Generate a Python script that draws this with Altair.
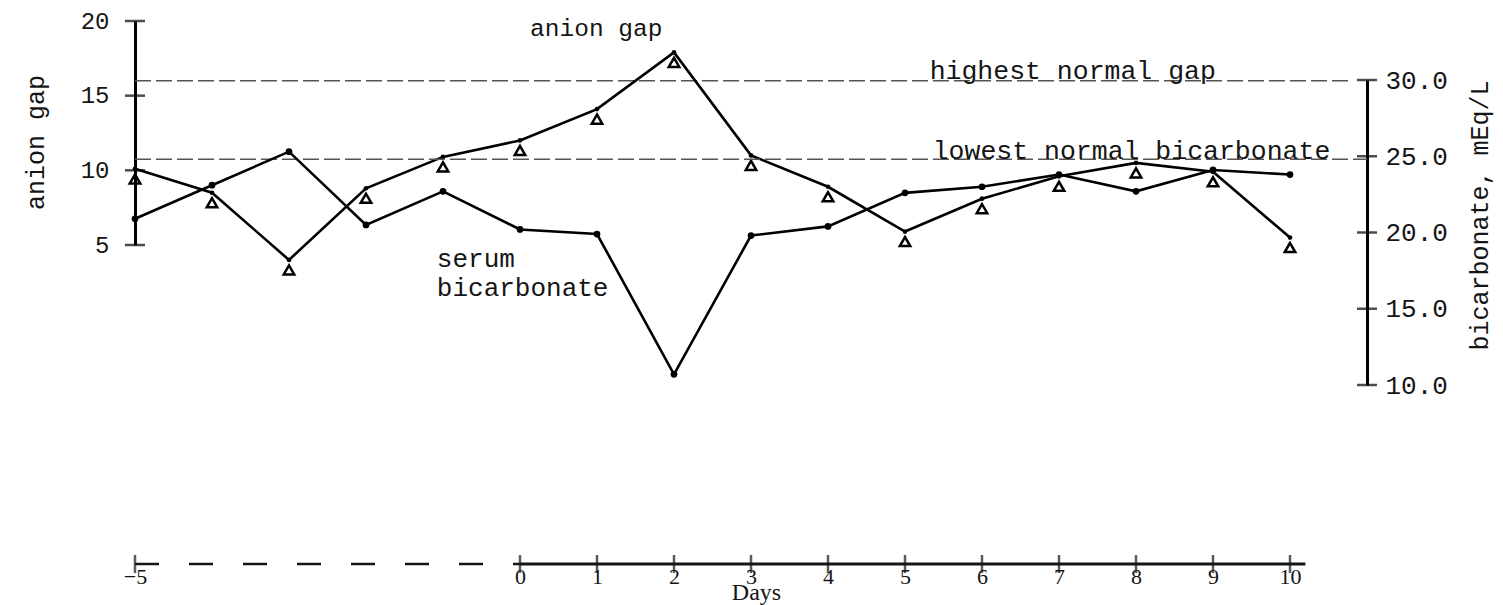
import altair as alt
import pandas as pd

# ---------------- data ----------------
days = list(range(-5, 11))
anion_gap = [10.1, 8.5, 4.0, 8.8, 10.9, 12.0, 14.1, 17.9, 11.0, 8.9, 5.9, 8.1, 9.6, 10.5, 9.9, 5.5]
bicarbonate = [20.9, 23.1, 25.3, 20.5, 22.7, 20.2, 19.9, 10.7, 19.8, 20.4, 22.6, 23.0, 23.8, 22.7, 24.1, 23.8]

gap_tick_values = [5, 10, 15, 20]
bicarb_tick_values = [10.0, 15.0, 20.0, 25.0, 30.0]
day_tick_values = [-5, 0, 1, 2, 3, 4, 5, 6, 7, 8, 9, 10]

highest_normal_gap = 16.0
lowest_normal_bicarb = 24.8

# annotation anchors (day, value)
gap_label_pos = (0.99, 19.45)
high_label_pos = (5.32, 16.1)
low_label_pos = (5.36, 24.85)
serum_label_days = [-1.08, -1.08]
serum_label_vals = [18.26, 16.36]
serum_label_text = ["serum", "bicarbonate"]

# ---------------- styling ----------------
MONO = "Liberation Mono"
SERIF = "Liberation Serif"
INK = "#151515"
W, H = 1232, 548

x_scale = alt.Scale(domain=[-5, 11], nice=False, zero=False)
gap_scale = alt.Scale(domain=[5, 20], range=[229, 5], nice=False, zero=False)
bic_scale = alt.Scale(domain=[10, 30], range=[369, 64], nice=False, zero=False)

x_axis = alt.Axis(values=day_tick_values, format="d", domain=False, ticks=False, grid=False,
                  labelFont=SERIF, labelFontSize=22, labelColor=INK, labelPadding=2,
                  labelFlush=False, labelOverlap=False,
                  title="Days", titleFont=SERIF, titleFontSize=24, titleFontWeight="normal",
                  titleColor=INK, titleX=621, titleY=28, titleAlign="center", titleBaseline="middle")

gap_axis = alt.Axis(orient="left", values=gap_tick_values, format="d", ticks=False, grid=False,
                    domain=True, domainColor="black", domainWidth=3,
                    labelFont=MONO, labelFontSize=24, labelColor=INK, labelPadding=26,
                    labelFlush=False, labelOverlap=False,
                    title="anion gap", titleFont=MONO, titleFontSize=25, titleFontWeight="normal",
                    titleColor=INK, titleAngle=270, titleX=-100, titleY=126,
                    titleAlign="center", titleBaseline="middle")

bic_axis = alt.Axis(orient="right", values=bicarb_tick_values, format=".1f", ticks=False, grid=False,
                    domain=True, domainColor="black", domainWidth=3,
                    labelFont=MONO, labelFontSize=26, labelColor=INK, labelPadding=18,
                    labelFlush=False, labelOverlap=False,
                    title="bicarbonate, mEq/L", titleFont=MONO, titleFontSize=25,
                    titleFontWeight="normal", titleColor=INK, titleAngle=270,
                    titleX=112, titleY=199, titleAlign="center", titleBaseline="middle")

X = alt.X("day:Q", scale=x_scale, axis=x_axis)
X2 = alt.X2("day_end:Q")
YG = alt.Y("gap:Q", scale=gap_scale, axis=gap_axis)
YB = alt.Y("bic:Q", scale=bic_scale, axis=bic_axis)

main = pd.DataFrame({"day": days, "gap": anion_gap, "bic": bicarbonate})

# ---------------- x axis drawn with break ----------------
seg_dash = pd.DataFrame({"day": [-5.0], "day_end": [0.0]})
seg_solid = pd.DataFrame({"day": [0.0], "day_end": [10.2]})
xt = pd.DataFrame({"day": day_tick_values})

x_dash = alt.Chart(seg_dash).mark_rule(color=INK, strokeWidth=2.5, strokeDash=[24, 30]).encode(
    x=X, x2=X2, y=alt.value(H))
x_solid = alt.Chart(seg_solid).mark_rule(color=INK, strokeWidth=3).encode(
    x=X, x2=X2, y=alt.value(H))
x_ticks = alt.Chart(xt).mark_tick(orient="vertical", size=18, thickness=2.5, color=INK).encode(
    x=X, y=alt.value(H))
xdeco = alt.layer(x_dash, x_solid, x_ticks)

# ---------------- anion gap group (left axis) ----------------
gt = pd.DataFrame({"day": [-5] * len(gap_tick_values), "gap": gap_tick_values})
gap_ticks = alt.Chart(gt).mark_tick(orient="horizontal", size=20, thickness=2.5, color="black").encode(x=X, y=YG)
hi = pd.DataFrame({"day": [-5.0], "day_end": [10.8], "gap": [highest_normal_gap]})
hi_rule = alt.Chart(hi).mark_rule(color="#555", strokeWidth=1.5, strokeDash=[16, 5]).encode(x=X, x2=X2, y=YG)
gap_line = alt.Chart(main).mark_line(color="black", strokeWidth=2.6).encode(x=X, y=YG)
gap_dot = alt.Chart(main).mark_point(shape="circle", filled=True, size=22, color="black", opacity=1).encode(x=X, y=YG)
gap_tri = alt.Chart(main).mark_point(shape="triangle-up", filled=False, size=110, strokeWidth=2.5,
                                     color="black", opacity=1, yOffset=10).encode(x=X, y=YG)
gl = pd.DataFrame({"day": [gap_label_pos[0]], "gap": [gap_label_pos[1]], "t": ["anion gap"]})
gap_text = alt.Chart(gl).mark_text(font=MONO, fontSize=24.5, color=INK, align="center", baseline="middle").encode(
    x=X, y=YG, text="t:N")
hl = pd.DataFrame({"day": [high_label_pos[0]], "gap": [high_label_pos[1]], "t": ["highest normal gap"]})
high_text = alt.Chart(hl).mark_text(font=MONO, fontSize=26.5, color=INK, align="left", baseline="alphabetic").encode(
    x=X, y=YG, text="t:N")
gap_group = alt.layer(gap_ticks, hi_rule, gap_line, gap_dot, gap_tri, gap_text, high_text)

# ---------------- bicarbonate group (right axis) ----------------
bt = pd.DataFrame({"day": [11] * len(bicarb_tick_values), "bic": bicarb_tick_values})
bic_ticks = alt.Chart(bt).mark_tick(orient="horizontal", size=20, thickness=2.5, color="black").encode(x=X, y=YB)
lo = pd.DataFrame({"day": [-5.0], "day_end": [11.0], "bic": [lowest_normal_bicarb]})
lo_rule = alt.Chart(lo).mark_rule(color="#555", strokeWidth=1.5, strokeDash=[16, 5]).encode(x=X, x2=X2, y=YB)
bic_line = alt.Chart(main).mark_line(color="black", strokeWidth=2.6).encode(x=X, y=YB)
bic_dot = alt.Chart(main).mark_point(shape="circle", filled=True, size=45, color="black", opacity=1).encode(x=X, y=YB)
ll = pd.DataFrame({"day": [low_label_pos[0]], "bic": [low_label_pos[1]], "t": ["lowest normal bicarbonate"]})
low_text = alt.Chart(ll).mark_text(font=MONO, fontSize=26.5, color=INK, align="left", baseline="alphabetic").encode(
    x=X, y=YB, text="t:N")
sl = pd.DataFrame({"day": serum_label_days, "bic": serum_label_vals, "t": serum_label_text})
serum_text = alt.Chart(sl).mark_text(font=MONO, fontSize=26, color=INK, align="left", baseline="middle").encode(
    x=X, y=YB, text="t:N")
bic_group = alt.layer(bic_ticks, lo_rule, bic_line, bic_dot, low_text, serum_text)

chart = alt.layer(xdeco, gap_group, bic_group).resolve_scale(y="independent").properties(
    width=W, height=H,
    padding={"left": 127, "top": 8, "right": 128, "bottom": 45},
    autosize="none",
    background="white",
).configure_view(stroke=None)

chart.save("out.html", embed_options={"renderer": "svg", "actions": False})
